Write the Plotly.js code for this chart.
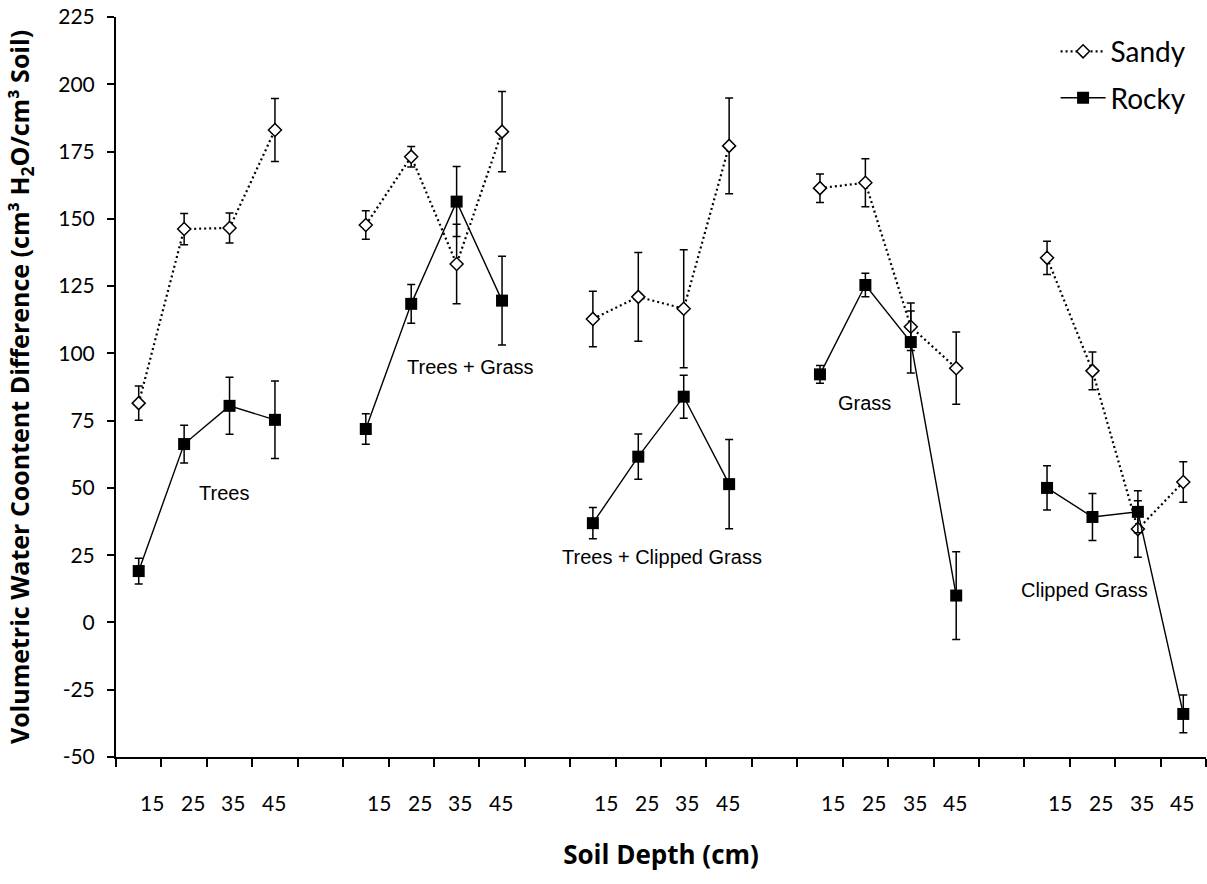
<!DOCTYPE html>
<html>
<head>
<meta charset="utf-8">
<script src="https://cdn.plot.ly/plotly-3.0.1.min.js"></script>
<style>
  html, body { margin: 0; padding: 0; background: #ffffff; }
  #chart { width: 1207px; height: 884px; }
</style>
</head>
<body>
<div id="chart"></div>
<script>
// Soil depths sampled in each treatment (cm)
const depths = [15, 25, 35, 45];

// Vegetation treatments, left to right
const treatments = ['Trees', 'Trees + Grass', 'Trees + Clipped Grass', 'Grass', 'Clipped Grass'];

// Sandy site: mean water content difference and error per depth
const sandyTrees        = [81.5, 146.2, 146.6, 183.0];
const sandyTreesGrass   = [147.7, 173.1, 133.2, 182.4];
const sandyTreesClipped = [112.8, 121.0, 116.6, 177.1];
const sandyGrass        = [161.4, 163.4, 109.9, 94.5];
const sandyClipped      = [135.5, 93.5, 34.7, 52.2];

const sandyTreesErr        = [6.4, 5.8, 5.6, 11.7];
const sandyTreesGrassErr   = [5.3, 3.8, 14.8, 14.9];
const sandyTreesClippedErr = [10.3, 16.5, 21.9, 17.8];
const sandyGrassErr        = [5.3, 8.9, 8.8, 13.4];
const sandyClippedErr      = [6.2, 7.0, 10.5, 7.5];

// Rocky site: mean water content difference and error per depth
const rockyTrees        = [19.1, 66.3, 80.5, 75.3];
const rockyTreesGrass   = [71.9, 118.4, 156.4, 119.6];
const rockyTreesClipped = [36.9, 61.6, 83.9, 51.4];
const rockyGrass        = [92.2, 125.4, 104.2, 10.0];
const rockyClipped      = [50.0, 39.2, 41.1, -34.0];

const rockyTreesErr        = [4.8, 7.0, 10.6, 14.4];
const rockyTreesGrassErr   = [5.7, 7.2, 13.0, 16.5];
const rockyTreesClippedErr = [5.8, 8.4, 8.0, 16.6];
const rockyGrassErr        = [3.3, 4.4, 11.5, 16.3];
const rockyClippedErr      = [8.2, 8.7, 7.8, 7.0];

// Y axis tick values
const yTicks = [-50, -25, 0, 25, 50, 75, 100, 125, 150, 175, 200, 225];

// Label positions for each treatment: [category slot, y value]
const treatmentLabelPos = [[1.87, 48.0], [7.30, 95.1], [11.52, 24.3], [15.97, 81.6], [20.82, 12.1]];

// One empty category separates neighbouring treatments on the axis
const SLOTS_PER_GROUP = depths.length + 1;

function joinGroups(groups) {
  const out = [];
  groups.forEach((g, i) => {
    if (i > 0) out.push(null);
    g.forEach(v => out.push(v));
  });
  return out;
}

function slotPositions() {
  const out = [];
  treatments.forEach((t, gi) => {
    if (gi > 0) out.push(gi * SLOTS_PER_GROUP - 1);
    depths.forEach((d, di) => out.push(gi * SLOTS_PER_GROUP + di));
  });
  return out;
}

const xSlots = slotPositions();

const sandyY   = joinGroups([sandyTrees, sandyTreesGrass, sandyTreesClipped, sandyGrass, sandyClipped]);
const sandyErr = joinGroups([sandyTreesErr, sandyTreesGrassErr, sandyTreesClippedErr, sandyGrassErr, sandyClippedErr]);
const rockyY   = joinGroups([rockyTrees, rockyTreesGrass, rockyTreesClipped, rockyGrass, rockyClipped]);
const rockyErr = joinGroups([rockyTreesErr, rockyTreesGrassErr, rockyTreesClippedErr, rockyGrassErr, rockyClippedErr]);

const errStyle = (arr) => ({
  type: 'data', array: arr, visible: true,
  color: '#000000', thickness: 1.5, width: 4
});

const traces = [
  {
    name: 'Sandy', legendgroup: 'sandy',
    x: xSlots, y: sandyY, type: 'scatter', mode: 'lines+markers',
    connectgaps: false,
    line: { color: '#000000', width: 2.2, dash: '2px,3px' },
    marker: { symbol: 'diamond', size: 10, color: '#ffffff', line: { color: '#000000', width: 1.5 } },
    error_y: errStyle(sandyErr)
  },
  {
    name: 'Rocky', legendgroup: 'rocky',
    x: xSlots, y: rockyY, type: 'scatter', mode: 'lines+markers',
    connectgaps: false,
    line: { color: '#000000', width: 1.4 },
    marker: { symbol: 'square', size: 12, color: '#000000', line: { color: '#000000', width: 0 } },
    error_y: errStyle(rockyErr)
  }
];

// Depth labels under each treatment block
const DEPTH_LABEL_OFFSET = 0.29;
const DEPTH_LABEL_STEP = 0.896;
const annotations = [];
treatments.forEach((t, gi) => {
  depths.forEach((d, di) => {
    annotations.push({
      xref: 'x', yref: 'paper',
      x: gi * SLOTS_PER_GROUP + DEPTH_LABEL_OFFSET + di * DEPTH_LABEL_STEP,
      y: -0.061, xanchor: 'center', yanchor: 'middle',
      text: String(d), showarrow: false,
      font: { family: 'Lato, sans-serif', size: 21, color: '#000000' }
    });
  });
  annotations.push({
    xref: 'x', yref: 'y',
    x: treatmentLabelPos[gi][0], y: treatmentLabelPos[gi][1],
    xanchor: 'center', yanchor: 'middle',
    text: t, showarrow: false,
    font: { family: 'Liberation Sans, Arial, sans-serif', size: 20, color: '#000000' }
  });
});

const layout = {
  width: 1207, height: 884,
  margin: { l: 116, r: 1, t: 17, b: 127 },
  paper_bgcolor: '#ffffff', plot_bgcolor: '#ffffff',
  showlegend: true,
  legend: {
    x: 0.862, y: 0.987, xanchor: 'left', yanchor: 'top',
    font: { family: 'Lato, sans-serif', size: 28, color: '#000000' },
    bgcolor: 'rgba(0,0,0,0)', borderwidth: 0,
    traceorder: 'grouped', tracegroupgap: 7, itemwidth: 45
  },
  xaxis: {
    range: [-0.5, 23.5],
    tickmode: 'linear', tick0: -0.5, dtick: 1,
    ticks: 'outside', ticklen: 8, tickwidth: 2, tickcolor: '#000000',
    showticklabels: false,
    showline: true, linewidth: 2, linecolor: '#000000',
    showgrid: false, zeroline: false,
    title: {
      text: '<b>Soil Depth (cm)</b>', standoff: 80,
      font: { family: 'Open Sans, sans-serif', size: 26, color: '#000000' }
    }
  },
  yaxis: {
    range: [-50, 225],
    tickmode: 'array', tickvals: yTicks, ticktext: yTicks.map(v => String(v)),
    ticks: 'outside', ticklen: 7, tickwidth: 2, tickcolor: '#000000',
    ticklabelstandoff: 8,
    tickfont: { family: 'Lato, sans-serif', size: 21, color: '#000000' },
    showline: true, linewidth: 2, linecolor: '#000000',
    showgrid: false, zeroline: false,
    title: {
      text: '<b>Volumetric Water Coontent Difference (cm³ H<sub>2</sub>O/cm³ Soil)</b>',
      standoff: 22,
      font: { family: 'Open Sans, sans-serif', size: 25, color: '#000000' }
    }
  },
  annotations: annotations
};

Plotly.newPlot('chart', traces, layout, { displayModeBar: false, staticPlot: true });
</script>
</body>
</html>
